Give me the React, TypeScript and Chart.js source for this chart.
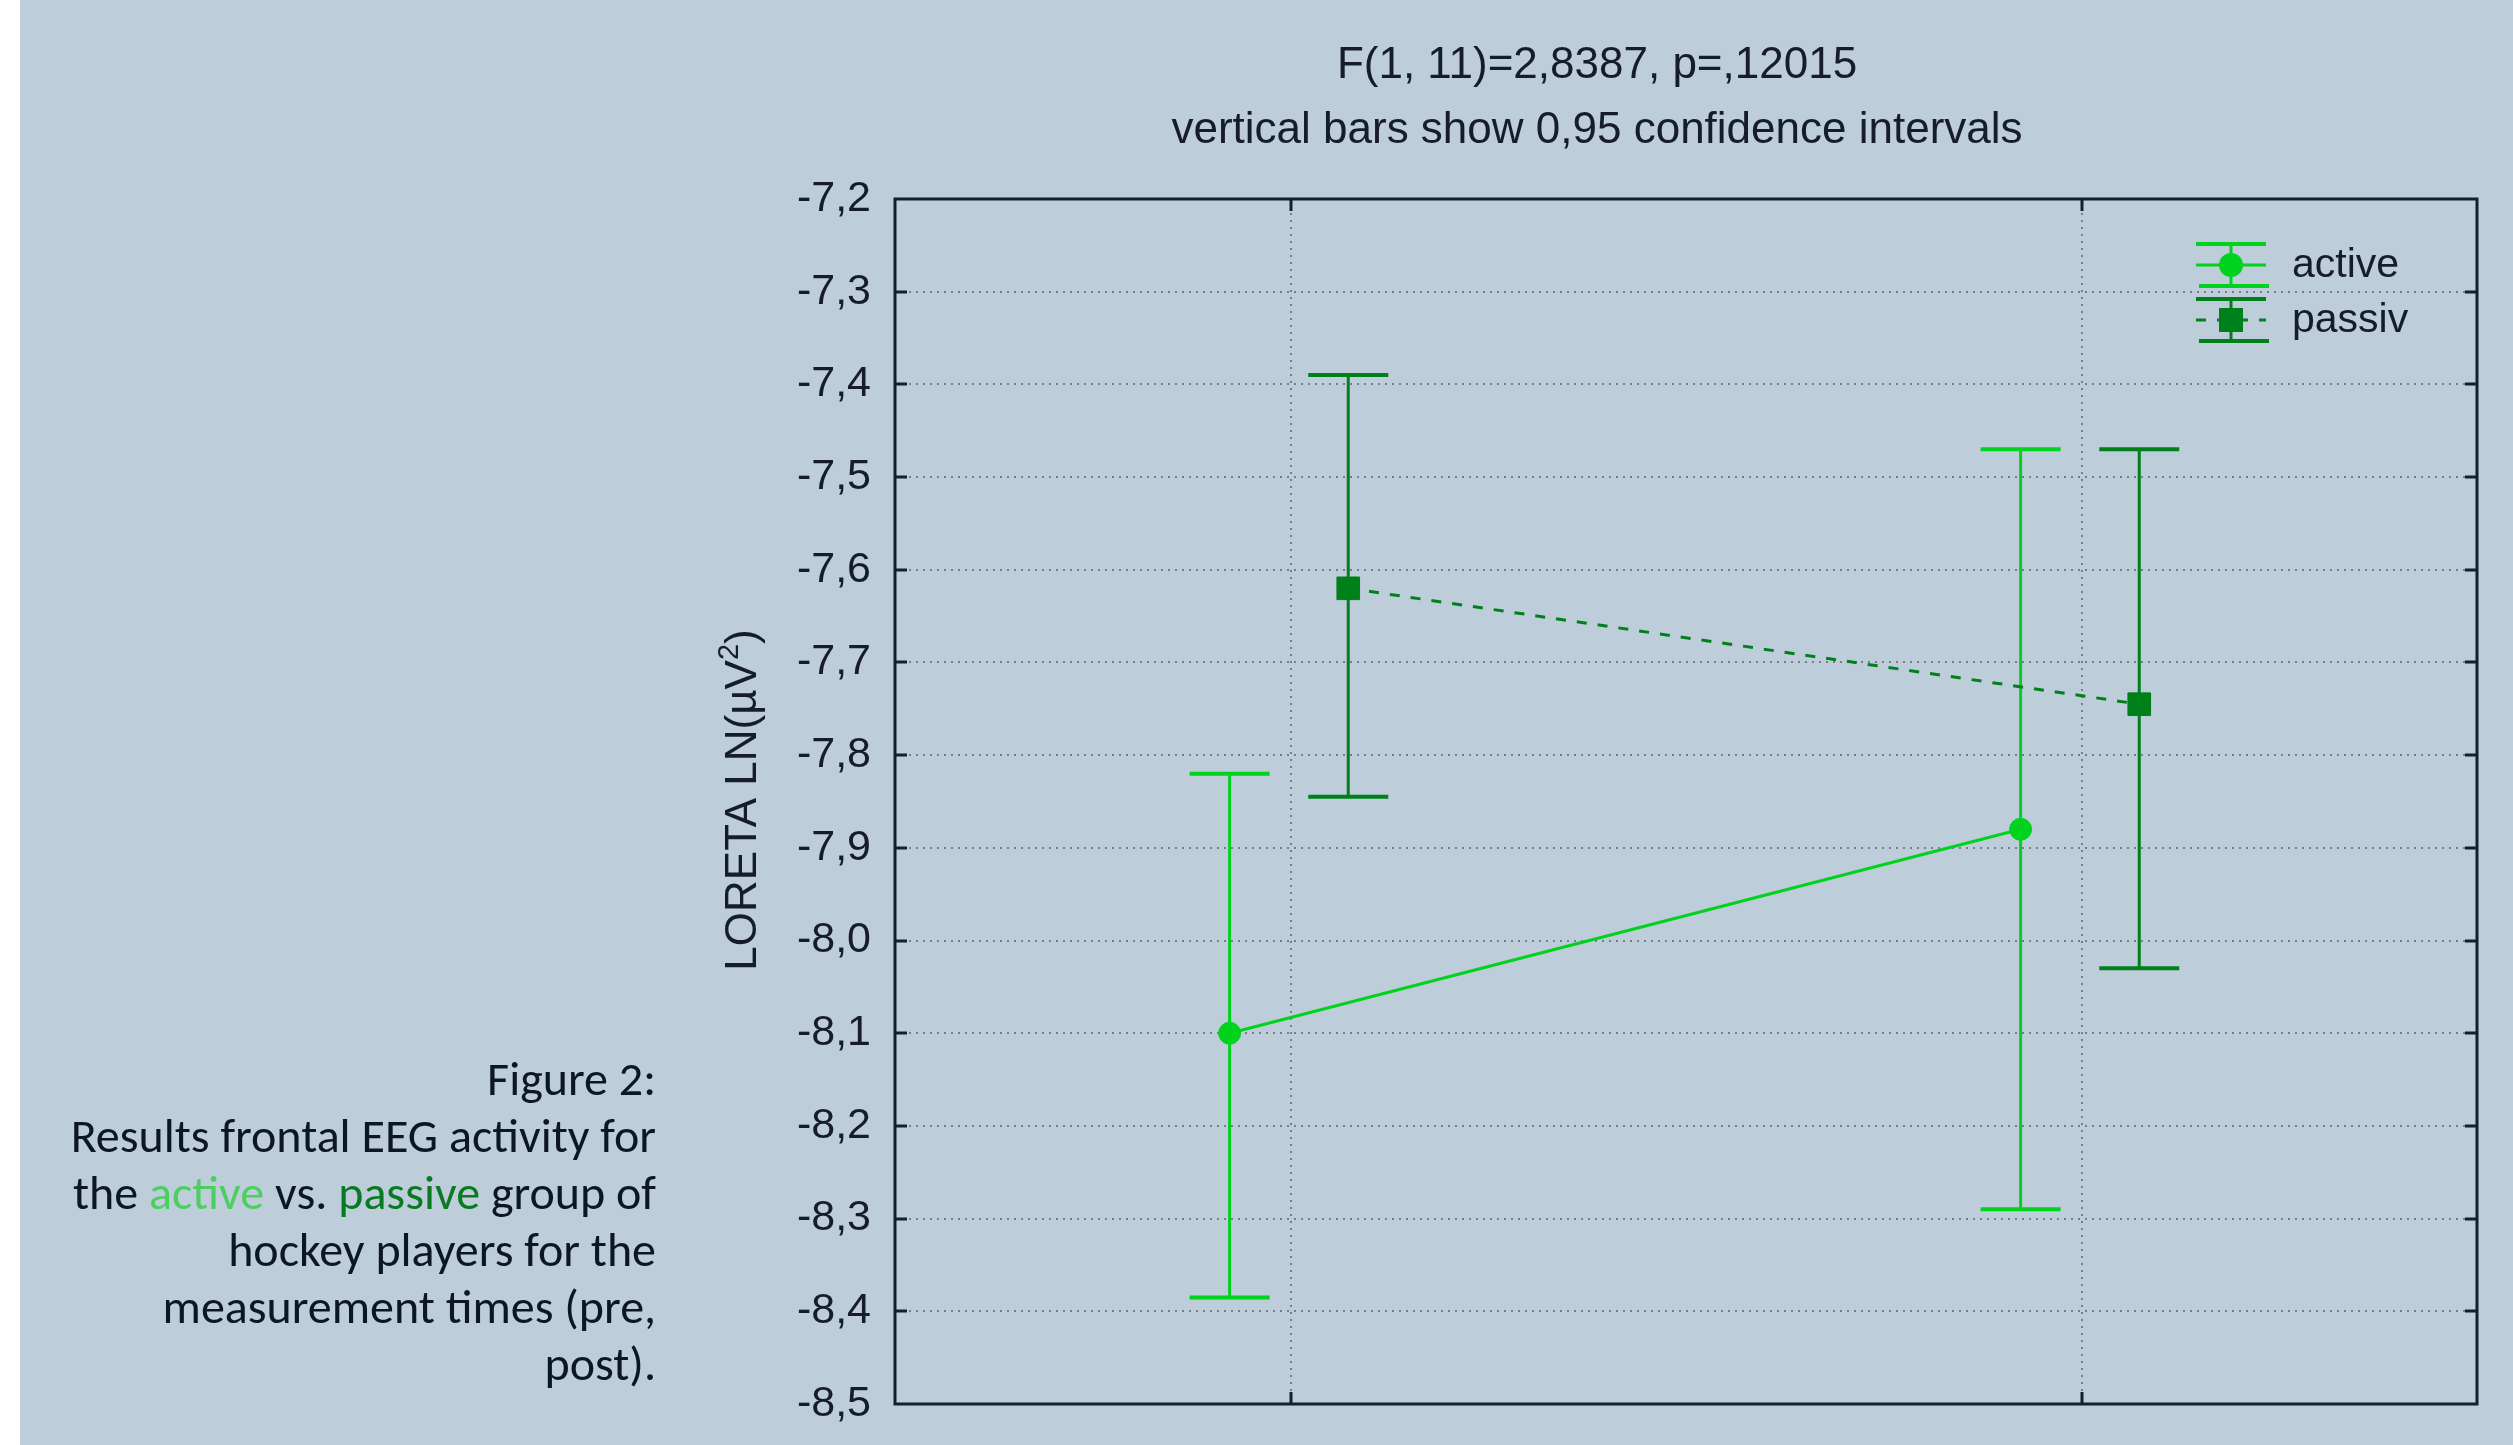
import React, { useEffect, useRef } from "react";
import { Chart, registerables } from "chart.js";

Chart.register(...registerables);

// ---------- data ----------
const CATEGORIES = ["pre", "post"];
const GROUPS = ["active", "passiv"];
const ACTIVE_MEAN = [-8.1, -7.88];
const ACTIVE_LOWER = [-8.385, -8.29];
const ACTIVE_UPPER = [-7.82, -7.47];
const PASSIVE_MEAN = [-7.62, -7.745];
const PASSIVE_LOWER = [-7.845, -8.03];
const PASSIVE_UPPER = [-7.39, -7.47];
const Y_MIN = -8.5;
const Y_MAX = -7.2;
const Y_STEP = 0.1;
const GROUP_OFFSET = [-0.077, 0.073];
const TITLE_LINES = ["F(1, 11)=2,8387, p=,12015", "vertical bars show 0,95 confidence intervals"];
const Y_LABEL = "LORETA LN(µV";
const Y_LABEL_SUP = "2";

// ---------- styles ----------
const BG = "#becdda";
const ACTIVE_COLOR = "#00d21e";
const PASSIVE_COLOR = "#00801a";
const TEXT_COLOR = "#161c2a";
const FRAME_COLOR = "#152029";
const GRID_COLOR = "rgba(105,112,122,0.85)";
const FONT = '"Liberation Sans", Arial, sans-serif';

const decorPlugin = {
  id: "statDecor",
  beforeDatasetsDraw(chart: any) {
    const { ctx, chartArea: a, scales } = chart;
    const x = scales.x;
    const y = scales.y;
    ctx.save();
    // dotted grid
    ctx.strokeStyle = GRID_COLOR;
    ctx.lineWidth = 2;
    ctx.setLineDash([2, 5]);
    y.ticks.forEach((t: any) => {
      if (t.value <= Y_MIN + 1e-6 || t.value >= Y_MAX - 1e-6) return;
      const py = Math.round(y.getPixelForValue(t.value));
      ctx.beginPath();
      ctx.moveTo(a.left, py);
      ctx.lineTo(a.right, py);
      ctx.stroke();
    });
    CATEGORIES.forEach((_, i) => {
      const px = Math.round(x.getPixelForValue(i + 0.5));
      ctx.beginPath();
      ctx.moveTo(px, a.top);
      ctx.lineTo(px, a.bottom);
      ctx.stroke();
    });
    ctx.setLineDash([]);
    // error bars
    const bars = [
      { lower: ACTIVE_LOWER, upper: ACTIVE_UPPER, color: ACTIVE_COLOR, off: GROUP_OFFSET[0] },
      { lower: PASSIVE_LOWER, upper: PASSIVE_UPPER, color: PASSIVE_COLOR, off: GROUP_OFFSET[1] },
    ];
    bars.forEach((b) => {
      ctx.strokeStyle = b.color;
      CATEGORIES.forEach((_, i) => {
        const px = x.getPixelForValue(i + 0.5 + b.off);
        const yl = y.getPixelForValue(b.lower[i]);
        const yu = y.getPixelForValue(b.upper[i]);
        ctx.lineWidth = 3;
        ctx.beginPath();
        ctx.moveTo(px, yl);
        ctx.lineTo(px, yu);
        ctx.stroke();
        ctx.lineWidth = 4;
        ctx.beginPath();
        ctx.moveTo(px - 40, yl);
        ctx.lineTo(px + 40, yl);
        ctx.moveTo(px - 40, yu);
        ctx.lineTo(px + 40, yu);
        ctx.stroke();
      });
    });
    ctx.restore();
  },
  afterDatasetsDraw(chart: any) {
    const { ctx, chartArea: a, scales } = chart;
    const x = scales.x;
    const y = scales.y;
    ctx.save();
    ctx.strokeStyle = FRAME_COLOR;
    ctx.lineWidth = 3;
    ctx.strokeRect(a.left, a.top, a.right - a.left, a.bottom - a.top);
    ctx.beginPath();
    y.ticks.forEach((t: any) => {
      if (t.value <= Y_MIN + 1e-6 || t.value >= Y_MAX - 1e-6) return;
      const py = Math.round(y.getPixelForValue(t.value));
      ctx.moveTo(a.left, py);
      ctx.lineTo(a.left + 12, py);
      ctx.moveTo(a.right, py);
      ctx.lineTo(a.right - 12, py);
    });
    CATEGORIES.forEach((_, i) => {
      const px = Math.round(x.getPixelForValue(i + 0.5));
      ctx.moveTo(px, a.top);
      ctx.lineTo(px, a.top + 12);
      ctx.moveTo(px, a.bottom);
      ctx.lineTo(px, a.bottom - 12);
    });
    ctx.stroke();
    ctx.restore();
  },
  afterDraw(chart: any) {
    const { ctx } = chart;
    ctx.save();
    // title
    ctx.fillStyle = TEXT_COLOR;
    ctx.font = `44px ${FONT}`;
    ctx.textAlign = "center";
    ctx.textBaseline = "middle";
    ctx.fillText(TITLE_LINES[0], 1597, 66);
    ctx.fillText(TITLE_LINES[1], 1597, 131);
    // y label
    ctx.save();
    ctx.translate(740, 800);
    ctx.rotate(-Math.PI / 2);
    ctx.font = `44px ${FONT}`;
    const w1 = ctx.measureText(Y_LABEL).width;
    ctx.font = `29px ${FONT}`;
    const w2 = ctx.measureText(Y_LABEL_SUP).width;
    ctx.font = `44px ${FONT}`;
    const w3 = ctx.measureText(")").width;
    const total = w1 + w2 + w3;
    let cx = -total / 2;
    ctx.textAlign = "left";
    ctx.textBaseline = "alphabetic";
    ctx.fillText(Y_LABEL, cx, 16);
    cx += w1;
    ctx.font = `29px ${FONT}`;
    ctx.fillText(Y_LABEL_SUP, cx, -2);
    cx += w2;
    ctx.font = `44px ${FONT}`;
    ctx.fillText(")", cx, 16);
    ctx.restore();
    // legend
    const items = [
      { label: GROUPS[0], color: ACTIVE_COLOR, cy: 265, dash: [] as number[], style: "circle" },
      { label: GROUPS[1], color: PASSIVE_COLOR, cy: 320, dash: [10, 11], style: "rect" },
    ];
    items.forEach((it) => {
      const cxl = 2231;
      ctx.strokeStyle = it.color;
      ctx.fillStyle = it.color;
      ctx.lineWidth = 4;
      ctx.setLineDash([]);
      ctx.beginPath();
      ctx.moveTo(2196, it.cy - 21);
      ctx.lineTo(2266, it.cy - 21);
      ctx.moveTo(2199, it.cy + 21);
      ctx.lineTo(2269, it.cy + 21);
      ctx.stroke();
      ctx.lineWidth = 3;
      ctx.beginPath();
      ctx.moveTo(cxl, it.cy - 21);
      ctx.lineTo(cxl, it.cy + 21);
      ctx.stroke();
      ctx.setLineDash(it.dash);
      ctx.beginPath();
      ctx.moveTo(2196, it.cy);
      ctx.lineTo(2266, it.cy);
      ctx.stroke();
      ctx.setLineDash([]);
      if (it.style === "circle") {
        ctx.beginPath();
        ctx.arc(cxl, it.cy, 12, 0, Math.PI * 2);
        ctx.fill();
      } else {
        ctx.fillRect(cxl - 12, it.cy - 12, 24, 24);
      }
      ctx.fillStyle = TEXT_COLOR;
      ctx.font = `41px ${FONT}`;
      ctx.textAlign = "left";
      ctx.textBaseline = "middle";
      ctx.fillText(it.label, 2292, it.cy + 1);
    });
    ctx.restore();
  },
};

export default function App() {
  const ref = useRef<HTMLCanvasElement | null>(null);

  useEffect(() => {
    if (!ref.current) return;
    const chart = new Chart(ref.current, {
      type: "line",
      data: {
        datasets: [
          {
            label: GROUPS[0],
            data: CATEGORIES.map((_, i) => ({ x: i + 0.5 + GROUP_OFFSET[0], y: ACTIVE_MEAN[i] })),
            borderColor: ACTIVE_COLOR,
            backgroundColor: ACTIVE_COLOR,
            borderWidth: 3,
            pointStyle: "circle",
            pointRadius: 11,
            pointBorderWidth: 1,
            pointBackgroundColor: ACTIVE_COLOR,
            pointBorderColor: ACTIVE_COLOR,
            tension: 0,
          },
          {
            label: GROUPS[1],
            data: CATEGORIES.map((_, i) => ({ x: i + 0.5 + GROUP_OFFSET[1], y: PASSIVE_MEAN[i] })),
            borderColor: PASSIVE_COLOR,
            backgroundColor: PASSIVE_COLOR,
            borderWidth: 3,
            borderDash: [10, 11],
            pointStyle: "rect",
            pointRadius: 16,
            pointBorderWidth: 1,
            pointBackgroundColor: PASSIVE_COLOR,
            pointBorderColor: PASSIVE_COLOR,
            tension: 0,
          },
        ],
      },
      options: {
        animation: false,
        responsive: false,
        devicePixelRatio: 1,
        layout: { padding: { left: 0, right: 36, top: 199, bottom: 41 } },
        plugins: {
          legend: { display: false },
          title: { display: false },
          tooltip: { enabled: false },
        },
        scales: {
          x: { type: "linear", min: 0, max: CATEGORIES.length, display: false },
          y: {
            type: "linear",
            min: Y_MIN,
            max: Y_MAX,
            grid: { display: false, drawTicks: false },
            border: { display: false },
            ticks: {
              stepSize: Y_STEP,
              padding: 24,
              color: TEXT_COLOR,
              font: { family: FONT, size: 43 },
              callback: (v: any) => Number(v).toFixed(1).replace(".", ","),
            },
            afterFit: (s: any) => {
              s.width = 895;
              s.paddingTop = 0;
              s.paddingBottom = 0;
            },
          },
        },
      } as any,
      plugins: [decorPlugin],
    });
    return () => chart.destroy();
  }, []);

  const captionStyle: React.CSSProperties = {
    position: "absolute",
    left: 0,
    top: 1050,
    width: 656,
    textAlign: "right",
    fontFamily: "Carlito, Calibri, Lato, 'Open Sans', sans-serif",
    fontSize: 48,
    lineHeight: "57px",
    color: "#0d1626",
    whiteSpace: "nowrap",
  };

  return (
    <div style={{ position: "absolute", left: 0, top: 0, width: 2513, height: 1445, background: "#ffffff", overflow: "hidden" }}>
      <div style={{ position: "absolute", left: 20, top: 0, width: 2493, height: 1445, background: BG }} />
      <canvas ref={ref} width={2513} height={1445} style={{ position: "absolute", left: 0, top: 0, width: 2513, height: 1445 }} />
      <div style={captionStyle}>
        <div>Figure 2:</div>
        <div>Results frontal EEG activity for</div>
        <div>
          the <span style={{ color: "#4ccf60" }}>active</span> vs. <span style={{ color: "#0a7a22" }}>passive</span> group of
        </div>
        <div>hockey players for the</div>
        <div>measurement times (pre,</div>
        <div>post).</div>
      </div>
    </div>
  );
}
